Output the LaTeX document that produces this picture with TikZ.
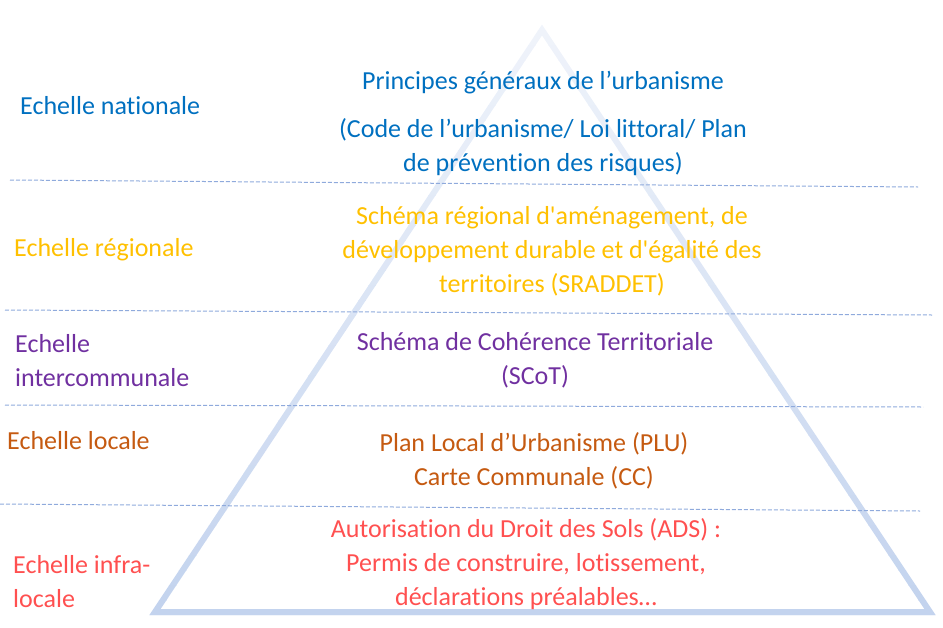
\documentclass[tikz,border=0pt]{standalone}
\usepackage{fontspec}
\setmainfont{Carlito}[Ligatures={TeXOff,CommonOff}]
\definecolor{cBlue}{HTML}{0070C0}
\definecolor{cOrange}{HTML}{FFC000}
\definecolor{cPurple}{HTML}{7030A0}
\definecolor{cBrown}{HTML}{C55A11}
\definecolor{cRed}{HTML}{FF5050}
\definecolor{triB}{HTML}{C3D3EE}
\definecolor{dashC}{HTML}{8FAADC}
\begin{document}
\begin{tikzpicture}[x=1pt,y=-1pt,
  txt/.style={font=\fontsize{26}{34}\selectfont, inner sep=0pt, align=center},
  lbl/.style={font=\fontsize{26}{34}\selectfont, inner sep=0pt, align=left, anchor=west},
  dashline/.style={draw=dashC, line width=1pt, dash pattern=on 4pt off 2pt}]
\useasboundingbox (0,0) rectangle (943,627);
% triangle with vertical gradient
\foreach \i in {0,...,41} {
  \pgfmathsetmacro\pct{min(100,25+75*\i/39)}
  \begin{scope}
    \clip (0,{15+\i*15}) rectangle (943,{30.5+\i*15});
    \draw[line width=6pt, line join=miter, color=triB!\pct!white]
      (542,30) -- (155,612) -- (930,612) -- cycle;
  \end{scope}
}
% dashed separators
\draw[dashline] (10,180) -- (918,187);
\draw[dashline] (5,310) -- (932,315);
\draw[dashline] (5,405) -- (923,407);
\draw[dashline] (0,504) -- (920,511);
% centre texts
\node[txt, text=cBlue] (n1) at (543,82.5) {Principes généraux de l’urbanisme};
\node[txt, text=cBlue] (n2) at (543,147.5) {(Code de l’urbanisme/ Loi littoral/ Plan\\de prévention des risques)};
\node[txt, text=cOrange] (r1) at (552,251.5) {Schéma régional d'aménagement, de\\développement durable et d'égalité des\\territoires (SRADDET)};
\node[txt, text=cPurple] (i1) at (535,360.5) {Schéma de Cohérence Territoriale\\(SCoT)};
\node[txt, text=cBrown] (l1) at (534,460.5) {Plan Local d’Urbanisme (PLU)\\Carte Communale (CC)};
\node[txt, text=cRed] (a1) at (526,564.5) {Autorisation du Droit des Sols (ADS) :\\Permis de construire, lotissement,\\déclarations préalables…};
% left labels
\node[lbl, text=cBlue] (e1) at (20,106) {Echelle nationale};
\node[lbl, text=cOrange] (e2) at (14,250) {Echelle régionale};
\node[lbl, text=cPurple] (e3) at (15,360.5) {Echelle\\intercommunale};
\node[lbl, text=cBrown] (e4) at (7,441) {Echelle locale};
\node[lbl, text=cRed] (e5) at (13,581.5) {Echelle infra-\\locale};
\end{tikzpicture}
\end{document}
